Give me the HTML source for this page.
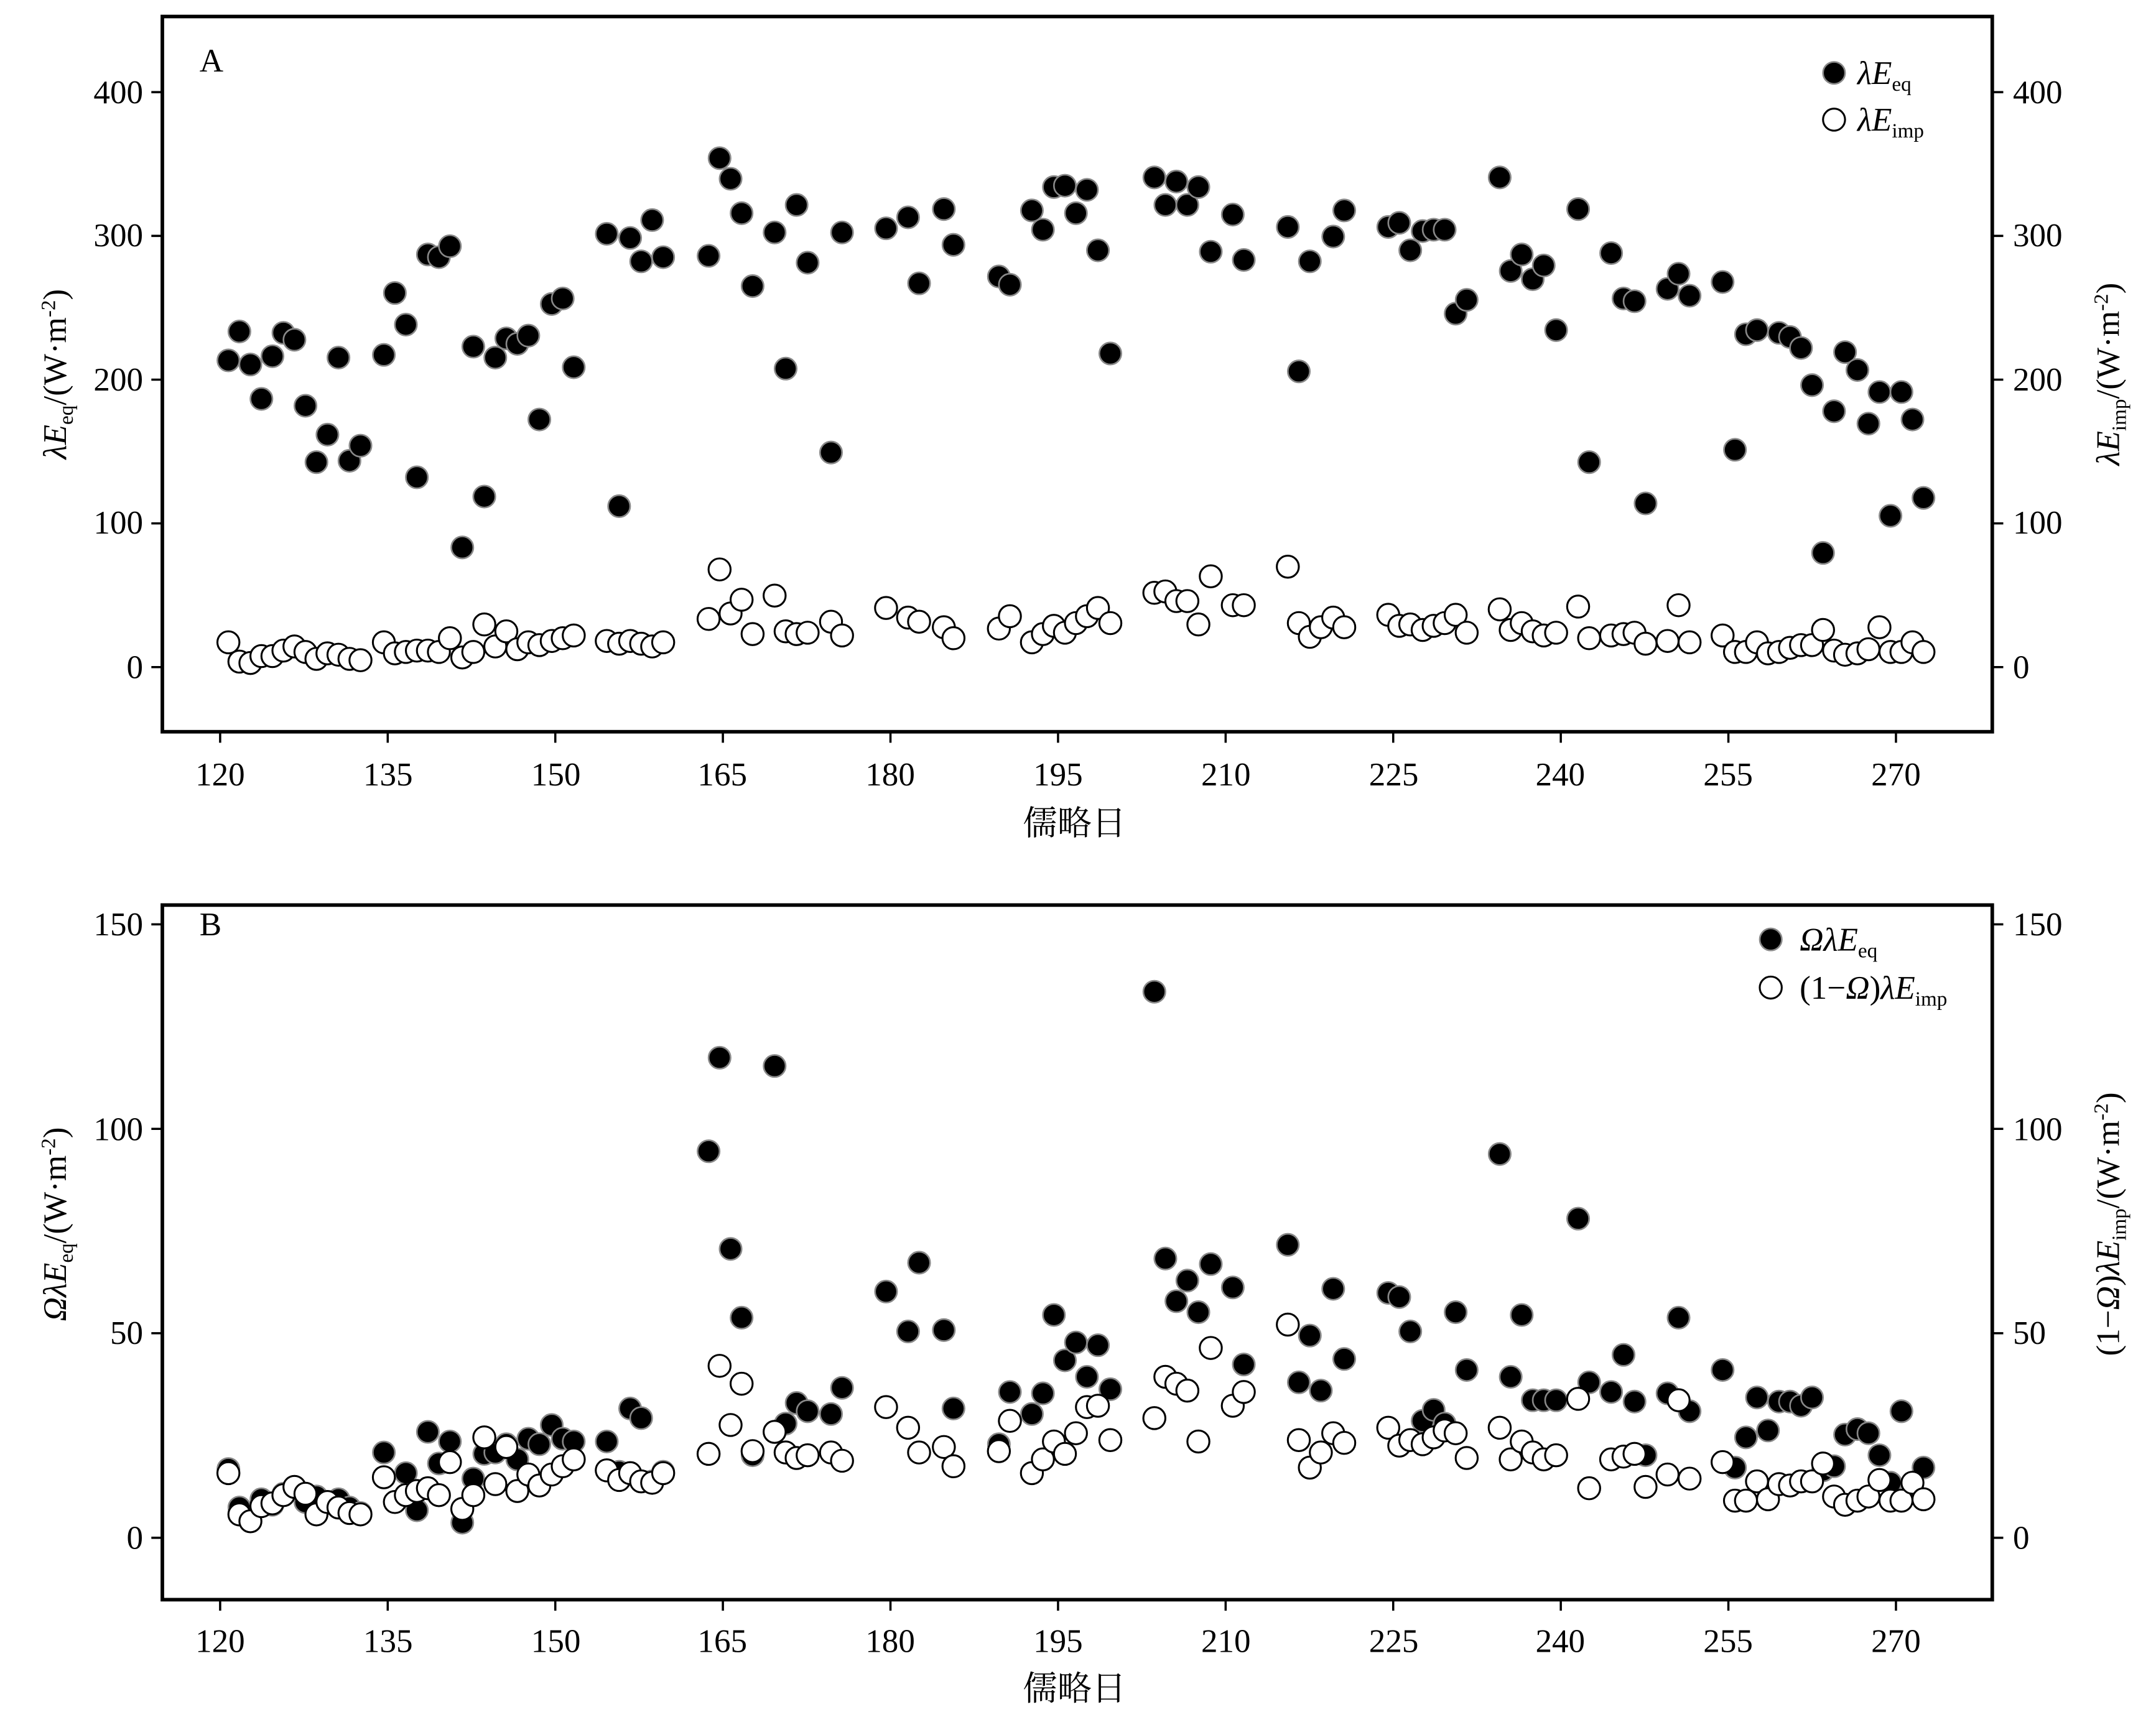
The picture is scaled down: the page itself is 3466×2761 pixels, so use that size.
<!DOCTYPE html>
<html><head><meta charset="utf-8"><style>
html,body{margin:0;padding:0;background:#fff;}
svg{display:block;}
text{font-family:"Liberation Serif","Noto Serif CJK SC",serif;fill:#000;}
</style></head><body>
<svg width="3466" height="2761" viewBox="0 0 1567 1248.3" preserveAspectRatio="none" xmlns="http://www.w3.org/2000/svg" xmlns:xlink="http://www.w3.org/1999/xlink">
<defs>
<circle id="f" cx="0" cy="0" r="8" fill="#000" stroke="#888" stroke-width="1.2"/>
<circle id="o" cx="0" cy="0" r="8" fill="#fff" stroke="#000" stroke-width="1.4"/>
</defs>
<rect width="1570" height="1250" fill="#fff"/>
<g>
<use href="#f" x="166" y="262"/><use href="#f" x="174" y="241"/><use href="#f" x="182" y="265"/><use href="#f" x="190" y="290"/><use href="#f" x="198" y="259"/><use href="#f" x="206" y="242"/><use href="#f" x="214" y="247"/><use href="#f" x="222" y="295"/><use href="#f" x="230" y="336"/><use href="#f" x="238" y="316"/><use href="#f" x="246" y="260"/><use href="#f" x="254" y="335"/><use href="#f" x="262" y="324"/><use href="#f" x="279" y="258"/><use href="#f" x="287" y="213"/><use href="#f" x="295" y="236"/><use href="#f" x="303" y="347"/><use href="#f" x="311" y="185"/><use href="#f" x="319" y="187"/><use href="#f" x="327" y="179"/><use href="#f" x="336" y="398"/><use href="#f" x="344" y="252"/><use href="#f" x="352" y="361"/><use href="#f" x="360" y="260"/><use href="#f" x="368" y="246"/><use href="#f" x="376" y="250"/><use href="#f" x="384" y="244"/><use href="#f" x="392" y="305"/><use href="#f" x="401" y="221"/><use href="#f" x="409" y="217"/><use href="#f" x="417" y="267"/><use href="#f" x="441" y="170"/><use href="#f" x="450" y="368"/><use href="#f" x="458" y="173"/><use href="#f" x="466" y="190"/><use href="#f" x="474" y="160"/><use href="#f" x="482" y="187"/><use href="#f" x="515" y="186"/><use href="#f" x="523" y="115"/><use href="#f" x="531" y="130"/><use href="#f" x="539" y="155"/><use href="#f" x="547" y="208"/><use href="#f" x="563" y="169"/><use href="#f" x="571" y="268"/><use href="#f" x="579" y="149"/><use href="#f" x="587" y="191"/><use href="#f" x="604" y="329"/><use href="#f" x="612" y="169"/><use href="#f" x="644" y="166"/><use href="#f" x="660" y="158"/><use href="#f" x="668" y="206"/><use href="#f" x="686" y="152"/><use href="#f" x="693" y="178"/><use href="#f" x="726" y="201"/><use href="#f" x="734" y="207"/><use href="#f" x="750" y="153"/><use href="#f" x="758" y="167"/><use href="#f" x="766" y="136"/><use href="#f" x="774" y="135"/><use href="#f" x="782" y="155"/><use href="#f" x="790" y="138"/><use href="#f" x="798" y="182"/><use href="#f" x="807" y="257"/><use href="#f" x="839" y="129"/><use href="#f" x="847" y="149"/><use href="#f" x="855" y="132"/><use href="#f" x="863" y="149"/><use href="#f" x="871" y="136"/><use href="#f" x="880" y="183"/><use href="#f" x="896" y="156"/><use href="#f" x="904" y="189"/><use href="#f" x="936" y="165"/><use href="#f" x="944" y="270"/><use href="#f" x="952" y="190"/><use href="#f" x="969" y="172"/><use href="#f" x="977" y="153"/><use href="#f" x="1009" y="165"/><use href="#f" x="1017" y="162"/><use href="#f" x="1025" y="182"/><use href="#f" x="1034" y="168"/><use href="#f" x="1042" y="167"/><use href="#f" x="1050" y="167"/><use href="#f" x="1058" y="228"/><use href="#f" x="1066" y="218"/><use href="#f" x="1090" y="129"/><use href="#f" x="1098" y="197"/><use href="#f" x="1106" y="185"/><use href="#f" x="1114" y="203"/><use href="#f" x="1122" y="193"/><use href="#f" x="1131" y="240"/><use href="#f" x="1147" y="152"/><use href="#f" x="1155" y="336"/><use href="#f" x="1171" y="184"/><use href="#f" x="1180" y="217"/><use href="#f" x="1188" y="219"/><use href="#f" x="1196" y="366"/><use href="#f" x="1212" y="210"/><use href="#f" x="1220" y="199"/><use href="#f" x="1228" y="215"/><use href="#f" x="1252" y="205"/><use href="#f" x="1261" y="327"/><use href="#f" x="1269" y="243"/><use href="#f" x="1277" y="240"/><use href="#f" x="1293" y="242"/><use href="#f" x="1301" y="245"/><use href="#f" x="1309" y="253"/><use href="#f" x="1317" y="280"/><use href="#f" x="1325" y="402"/><use href="#f" x="1333" y="299"/><use href="#f" x="1341" y="256"/><use href="#f" x="1350" y="269"/><use href="#f" x="1358" y="308"/><use href="#f" x="1366" y="285"/><use href="#f" x="1374" y="375"/><use href="#f" x="1382" y="285"/><use href="#f" x="1390" y="305"/><use href="#f" x="1398" y="362"/>
</g>
<g>
<use href="#o" x="166" y="467"/><use href="#o" x="174" y="481"/><use href="#o" x="182" y="482"/><use href="#o" x="190" y="477"/><use href="#o" x="198" y="477"/><use href="#o" x="206" y="473"/><use href="#o" x="214" y="470"/><use href="#o" x="222" y="474"/><use href="#o" x="230" y="479"/><use href="#o" x="238" y="475"/><use href="#o" x="246" y="476"/><use href="#o" x="254" y="479"/><use href="#o" x="262" y="480"/><use href="#o" x="279" y="467"/><use href="#o" x="287" y="475"/><use href="#o" x="295" y="474"/><use href="#o" x="303" y="473"/><use href="#o" x="311" y="473"/><use href="#o" x="319" y="474"/><use href="#o" x="327" y="464"/><use href="#o" x="336" y="478"/><use href="#o" x="344" y="474"/><use href="#o" x="352" y="454"/><use href="#o" x="360" y="470"/><use href="#o" x="368" y="459"/><use href="#o" x="376" y="472"/><use href="#o" x="384" y="467"/><use href="#o" x="392" y="469"/><use href="#o" x="401" y="466"/><use href="#o" x="409" y="464"/><use href="#o" x="417" y="462"/><use href="#o" x="441" y="466"/><use href="#o" x="450" y="468"/><use href="#o" x="458" y="466"/><use href="#o" x="466" y="468"/><use href="#o" x="474" y="470"/><use href="#o" x="482" y="467"/><use href="#o" x="515" y="450"/><use href="#o" x="523" y="414"/><use href="#o" x="531" y="446"/><use href="#o" x="539" y="436"/><use href="#o" x="547" y="461"/><use href="#o" x="563" y="433"/><use href="#o" x="571" y="459"/><use href="#o" x="579" y="461"/><use href="#o" x="587" y="460"/><use href="#o" x="604" y="452"/><use href="#o" x="612" y="462"/><use href="#o" x="644" y="442"/><use href="#o" x="660" y="449"/><use href="#o" x="668" y="452"/><use href="#o" x="686" y="456"/><use href="#o" x="693" y="464"/><use href="#o" x="726" y="457"/><use href="#o" x="734" y="448"/><use href="#o" x="750" y="467"/><use href="#o" x="758" y="461"/><use href="#o" x="766" y="455"/><use href="#o" x="774" y="460"/><use href="#o" x="782" y="453"/><use href="#o" x="790" y="448"/><use href="#o" x="798" y="442"/><use href="#o" x="807" y="453"/><use href="#o" x="839" y="431"/><use href="#o" x="847" y="430"/><use href="#o" x="855" y="437"/><use href="#o" x="863" y="437"/><use href="#o" x="871" y="454"/><use href="#o" x="880" y="419"/><use href="#o" x="896" y="440"/><use href="#o" x="904" y="440"/><use href="#o" x="936" y="412"/><use href="#o" x="944" y="453"/><use href="#o" x="952" y="463"/><use href="#o" x="960" y="456"/><use href="#o" x="969" y="449"/><use href="#o" x="977" y="456"/><use href="#o" x="1009" y="447"/><use href="#o" x="1017" y="455"/><use href="#o" x="1025" y="454"/><use href="#o" x="1034" y="458"/><use href="#o" x="1042" y="455"/><use href="#o" x="1050" y="453"/><use href="#o" x="1058" y="447"/><use href="#o" x="1066" y="460"/><use href="#o" x="1090" y="443"/><use href="#o" x="1098" y="458"/><use href="#o" x="1106" y="453"/><use href="#o" x="1114" y="459"/><use href="#o" x="1122" y="462"/><use href="#o" x="1131" y="460"/><use href="#o" x="1147" y="441"/><use href="#o" x="1155" y="464"/><use href="#o" x="1171" y="462"/><use href="#o" x="1180" y="461"/><use href="#o" x="1188" y="460"/><use href="#o" x="1196" y="468"/><use href="#o" x="1212" y="466"/><use href="#o" x="1220" y="440"/><use href="#o" x="1228" y="467"/><use href="#o" x="1252" y="462"/><use href="#o" x="1261" y="474"/><use href="#o" x="1269" y="474"/><use href="#o" x="1277" y="467"/><use href="#o" x="1285" y="475"/><use href="#o" x="1293" y="474"/><use href="#o" x="1301" y="471"/><use href="#o" x="1309" y="469"/><use href="#o" x="1317" y="469"/><use href="#o" x="1325" y="458"/><use href="#o" x="1333" y="473"/><use href="#o" x="1341" y="476"/><use href="#o" x="1350" y="475"/><use href="#o" x="1358" y="472"/><use href="#o" x="1366" y="456"/><use href="#o" x="1374" y="474"/><use href="#o" x="1382" y="474"/><use href="#o" x="1390" y="467"/><use href="#o" x="1398" y="474"/>
</g>
<g>
<use href="#f" x="166" y="1068"/><use href="#f" x="174" y="1096"/><use href="#f" x="190" y="1090"/><use href="#f" x="198" y="1094"/><use href="#f" x="206" y="1086"/><use href="#f" x="214" y="1081"/><use href="#f" x="222" y="1092"/><use href="#f" x="230" y="1088"/><use href="#f" x="238" y="1093"/><use href="#f" x="246" y="1090"/><use href="#f" x="254" y="1096"/><use href="#f" x="262" y="1100"/><use href="#f" x="279" y="1056"/><use href="#f" x="295" y="1071"/><use href="#f" x="303" y="1098"/><use href="#f" x="311" y="1041"/><use href="#f" x="319" y="1064"/><use href="#f" x="327" y="1048"/><use href="#f" x="336" y="1107"/><use href="#f" x="344" y="1075"/><use href="#f" x="352" y="1057"/><use href="#f" x="360" y="1056"/><use href="#f" x="368" y="1050"/><use href="#f" x="376" y="1061"/><use href="#f" x="384" y="1046"/><use href="#f" x="392" y="1050"/><use href="#f" x="401" y="1036"/><use href="#f" x="409" y="1046"/><use href="#f" x="417" y="1048"/><use href="#f" x="441" y="1048"/><use href="#f" x="450" y="1070"/><use href="#f" x="458" y="1024"/><use href="#f" x="466" y="1031"/><use href="#f" x="474" y="1077"/><use href="#f" x="482" y="1070"/><use href="#f" x="515" y="837"/><use href="#f" x="523" y="769"/><use href="#f" x="531" y="908"/><use href="#f" x="539" y="958"/><use href="#f" x="547" y="1058"/><use href="#f" x="563" y="775"/><use href="#f" x="571" y="1035"/><use href="#f" x="579" y="1020"/><use href="#f" x="587" y="1026"/><use href="#f" x="604" y="1028"/><use href="#f" x="612" y="1009"/><use href="#f" x="644" y="939"/><use href="#f" x="660" y="968"/><use href="#f" x="668" y="918"/><use href="#f" x="686" y="967"/><use href="#f" x="693" y="1024"/><use href="#f" x="726" y="1050"/><use href="#f" x="734" y="1012"/><use href="#f" x="750" y="1028"/><use href="#f" x="758" y="1013"/><use href="#f" x="766" y="956"/><use href="#f" x="774" y="989"/><use href="#f" x="782" y="976"/><use href="#f" x="790" y="1001"/><use href="#f" x="798" y="978"/><use href="#f" x="807" y="1010"/><use href="#f" x="839" y="721"/><use href="#f" x="847" y="915"/><use href="#f" x="855" y="946"/><use href="#f" x="863" y="931"/><use href="#f" x="871" y="954"/><use href="#f" x="880" y="919"/><use href="#f" x="896" y="936"/><use href="#f" x="904" y="992"/><use href="#f" x="936" y="905"/><use href="#f" x="944" y="1005"/><use href="#f" x="952" y="971"/><use href="#f" x="960" y="1011"/><use href="#f" x="969" y="937"/><use href="#f" x="977" y="988"/><use href="#f" x="1009" y="940"/><use href="#f" x="1017" y="943"/><use href="#f" x="1025" y="968"/><use href="#f" x="1034" y="1033"/><use href="#f" x="1042" y="1025"/><use href="#f" x="1050" y="1035"/><use href="#f" x="1058" y="954"/><use href="#f" x="1066" y="996"/><use href="#f" x="1090" y="839"/><use href="#f" x="1098" y="1001"/><use href="#f" x="1106" y="956"/><use href="#f" x="1114" y="1018"/><use href="#f" x="1122" y="1018"/><use href="#f" x="1131" y="1018"/><use href="#f" x="1147" y="886"/><use href="#f" x="1155" y="1005"/><use href="#f" x="1171" y="1012"/><use href="#f" x="1180" y="985"/><use href="#f" x="1188" y="1019"/><use href="#f" x="1196" y="1058"/><use href="#f" x="1212" y="1013"/><use href="#f" x="1220" y="958"/><use href="#f" x="1228" y="1026"/><use href="#f" x="1252" y="996"/><use href="#f" x="1261" y="1067"/><use href="#f" x="1269" y="1045"/><use href="#f" x="1277" y="1016"/><use href="#f" x="1285" y="1040"/><use href="#f" x="1293" y="1019"/><use href="#f" x="1301" y="1019"/><use href="#f" x="1309" y="1022"/><use href="#f" x="1317" y="1016"/><use href="#f" x="1325" y="1069"/><use href="#f" x="1333" y="1066"/><use href="#f" x="1341" y="1043"/><use href="#f" x="1350" y="1039"/><use href="#f" x="1358" y="1042"/><use href="#f" x="1366" y="1058"/><use href="#f" x="1374" y="1078"/><use href="#f" x="1382" y="1026"/><use href="#f" x="1390" y="1079"/><use href="#f" x="1398" y="1067"/>
</g>
<g>
<use href="#o" x="166" y="1071"/><use href="#o" x="174" y="1101"/><use href="#o" x="182" y="1106"/><use href="#o" x="190" y="1095"/><use href="#o" x="198" y="1093"/><use href="#o" x="206" y="1087"/><use href="#o" x="214" y="1081"/><use href="#o" x="222" y="1086"/><use href="#o" x="230" y="1101"/><use href="#o" x="238" y="1092"/><use href="#o" x="246" y="1096"/><use href="#o" x="254" y="1100"/><use href="#o" x="262" y="1101"/><use href="#o" x="279" y="1074"/><use href="#o" x="287" y="1092"/><use href="#o" x="295" y="1087"/><use href="#o" x="303" y="1084"/><use href="#o" x="311" y="1082"/><use href="#o" x="319" y="1087"/><use href="#o" x="327" y="1063"/><use href="#o" x="336" y="1097"/><use href="#o" x="344" y="1087"/><use href="#o" x="352" y="1045"/><use href="#o" x="360" y="1079"/><use href="#o" x="368" y="1052"/><use href="#o" x="376" y="1084"/><use href="#o" x="384" y="1072"/><use href="#o" x="392" y="1080"/><use href="#o" x="401" y="1072"/><use href="#o" x="409" y="1066"/><use href="#o" x="417" y="1061"/><use href="#o" x="441" y="1069"/><use href="#o" x="450" y="1076"/><use href="#o" x="458" y="1071"/><use href="#o" x="466" y="1077"/><use href="#o" x="474" y="1078"/><use href="#o" x="482" y="1071"/><use href="#o" x="515" y="1057"/><use href="#o" x="523" y="993"/><use href="#o" x="531" y="1036"/><use href="#o" x="539" y="1006"/><use href="#o" x="547" y="1055"/><use href="#o" x="563" y="1041"/><use href="#o" x="571" y="1056"/><use href="#o" x="579" y="1060"/><use href="#o" x="587" y="1058"/><use href="#o" x="604" y="1056"/><use href="#o" x="612" y="1062"/><use href="#o" x="644" y="1023"/><use href="#o" x="660" y="1038"/><use href="#o" x="668" y="1056"/><use href="#o" x="686" y="1052"/><use href="#o" x="693" y="1066"/><use href="#o" x="726" y="1055"/><use href="#o" x="734" y="1033"/><use href="#o" x="750" y="1071"/><use href="#o" x="758" y="1061"/><use href="#o" x="766" y="1048"/><use href="#o" x="774" y="1057"/><use href="#o" x="782" y="1042"/><use href="#o" x="790" y="1023"/><use href="#o" x="798" y="1022"/><use href="#o" x="807" y="1047"/><use href="#o" x="839" y="1031"/><use href="#o" x="847" y="1001"/><use href="#o" x="855" y="1006"/><use href="#o" x="863" y="1011"/><use href="#o" x="871" y="1048"/><use href="#o" x="880" y="980"/><use href="#o" x="896" y="1022"/><use href="#o" x="904" y="1012"/><use href="#o" x="936" y="963"/><use href="#o" x="944" y="1047"/><use href="#o" x="952" y="1067"/><use href="#o" x="960" y="1056"/><use href="#o" x="969" y="1042"/><use href="#o" x="977" y="1049"/><use href="#o" x="1009" y="1038"/><use href="#o" x="1017" y="1051"/><use href="#o" x="1025" y="1047"/><use href="#o" x="1034" y="1050"/><use href="#o" x="1042" y="1045"/><use href="#o" x="1050" y="1040"/><use href="#o" x="1058" y="1042"/><use href="#o" x="1066" y="1060"/><use href="#o" x="1090" y="1038"/><use href="#o" x="1098" y="1061"/><use href="#o" x="1106" y="1048"/><use href="#o" x="1114" y="1056"/><use href="#o" x="1122" y="1061"/><use href="#o" x="1131" y="1058"/><use href="#o" x="1147" y="1017"/><use href="#o" x="1155" y="1082"/><use href="#o" x="1171" y="1061"/><use href="#o" x="1180" y="1059"/><use href="#o" x="1188" y="1057"/><use href="#o" x="1196" y="1081"/><use href="#o" x="1212" y="1072"/><use href="#o" x="1220" y="1018"/><use href="#o" x="1228" y="1075"/><use href="#o" x="1252" y="1063"/><use href="#o" x="1261" y="1091"/><use href="#o" x="1269" y="1091"/><use href="#o" x="1277" y="1077"/><use href="#o" x="1285" y="1090"/><use href="#o" x="1293" y="1079"/><use href="#o" x="1301" y="1080"/><use href="#o" x="1309" y="1077"/><use href="#o" x="1317" y="1077"/><use href="#o" x="1325" y="1064"/><use href="#o" x="1333" y="1088"/><use href="#o" x="1341" y="1094"/><use href="#o" x="1350" y="1091"/><use href="#o" x="1358" y="1088"/><use href="#o" x="1366" y="1076"/><use href="#o" x="1374" y="1091"/><use href="#o" x="1382" y="1091"/><use href="#o" x="1390" y="1078"/><use href="#o" x="1398" y="1090"/>
</g>
<g fill="none" stroke="#000" stroke-width="2.6">
<rect x="118" y="12" width="1330" height="520"/>
<rect x="118" y="658" width="1330" height="505"/>
</g>
<g stroke="#000" stroke-width="1.6">
<line x1="110" y1="485" x2="118" y2="485"/><line x1="110" y1="380.5" x2="118" y2="380.5"/><line x1="110" y1="276" x2="118" y2="276"/><line x1="110" y1="171.5" x2="118" y2="171.5"/><line x1="110" y1="67" x2="118" y2="67"/>
<line x1="1448" y1="485" x2="1456" y2="485"/><line x1="1448" y1="380.5" x2="1456" y2="380.5"/><line x1="1448" y1="276" x2="1456" y2="276"/><line x1="1448" y1="171.5" x2="1456" y2="171.5"/><line x1="1448" y1="67" x2="1456" y2="67"/>
<line x1="110" y1="1118" x2="118" y2="1118"/><line x1="110" y1="969.3" x2="118" y2="969.3"/><line x1="110" y1="820.7" x2="118" y2="820.7"/><line x1="110" y1="672" x2="118" y2="672"/>
<line x1="1448" y1="1118" x2="1456" y2="1118"/><line x1="1448" y1="969.3" x2="1456" y2="969.3"/><line x1="1448" y1="820.7" x2="1456" y2="820.7"/><line x1="1448" y1="672" x2="1456" y2="672"/>
<line x1="160" y1="532" x2="160" y2="540"/><line x1="281.8" y1="532" x2="281.8" y2="540"/><line x1="403.6" y1="532" x2="403.6" y2="540"/><line x1="525.4" y1="532" x2="525.4" y2="540"/><line x1="647.2" y1="532" x2="647.2" y2="540"/><line x1="769" y1="532" x2="769" y2="540"/><line x1="890.8" y1="532" x2="890.8" y2="540"/><line x1="1012.6" y1="532" x2="1012.6" y2="540"/><line x1="1134.4" y1="532" x2="1134.4" y2="540"/><line x1="1256.2" y1="532" x2="1256.2" y2="540"/><line x1="1378" y1="532" x2="1378" y2="540"/>
<line x1="160" y1="1163" x2="160" y2="1171"/><line x1="281.8" y1="1163" x2="281.8" y2="1171"/><line x1="403.6" y1="1163" x2="403.6" y2="1171"/><line x1="525.4" y1="1163" x2="525.4" y2="1171"/><line x1="647.2" y1="1163" x2="647.2" y2="1171"/><line x1="769" y1="1163" x2="769" y2="1171"/><line x1="890.8" y1="1163" x2="890.8" y2="1171"/><line x1="1012.6" y1="1163" x2="1012.6" y2="1171"/><line x1="1134.4" y1="1163" x2="1134.4" y2="1171"/><line x1="1256.2" y1="1163" x2="1256.2" y2="1171"/><line x1="1378" y1="1163" x2="1378" y2="1171"/>
</g>
<g font-size="24">
<text x="145" y="52">A</text>
<text x="145" y="680">B</text>
<g text-anchor="end">
<text x="104" y="493">0</text><text x="104" y="388">100</text><text x="104" y="284">200</text><text x="104" y="179">300</text><text x="104" y="75">400</text>
<text x="104" y="1126">0</text><text x="104" y="977">50</text><text x="104" y="829">100</text><text x="104" y="680">150</text>
</g>
<g text-anchor="start">
<text x="1463" y="493">0</text><text x="1463" y="388">100</text><text x="1463" y="284">200</text><text x="1463" y="179">300</text><text x="1463" y="75">400</text>
<text x="1463" y="1126">0</text><text x="1463" y="977">50</text><text x="1463" y="829">100</text><text x="1463" y="680">150</text>
</g>
<g text-anchor="middle">
<text x="160" y="571">120</text><text x="282" y="571">135</text><text x="404" y="571">150</text><text x="525" y="571">165</text><text x="647" y="571">180</text><text x="769" y="571">195</text><text x="891" y="571">210</text><text x="1013" y="571">225</text><text x="1134" y="571">240</text><text x="1256" y="571">255</text><text x="1378" y="571">270</text>
<text x="160" y="1201">120</text><text x="282" y="1201">135</text><text x="404" y="1201">150</text><text x="525" y="1201">165</text><text x="647" y="1201">180</text><text x="769" y="1201">195</text><text x="891" y="1201">210</text><text x="1013" y="1201">225</text><text x="1134" y="1201">240</text><text x="1256" y="1201">255</text><text x="1378" y="1201">270</text>
<text x="781" y="607" font-size="25">儒略日</text>
<text x="781" y="1236" font-size="25">儒略日</text>
</g>
<text transform="translate(48,272) rotate(-90)" text-anchor="middle"><tspan font-style="italic">λE</tspan><tspan font-size="15" dy="5">eq</tspan><tspan dy="-5">/(W·m</tspan><tspan font-size="15" dy="-8">-2</tspan><tspan dy="8">)</tspan></text>
<text transform="translate(1540,272) rotate(-90)" text-anchor="middle"><tspan font-style="italic">λE</tspan><tspan font-size="15" dy="5">imp</tspan><tspan dy="-5">/(W·m</tspan><tspan font-size="15" dy="-8">-2</tspan><tspan dy="8">)</tspan></text>
<text transform="translate(48,890) rotate(-90)" text-anchor="middle"><tspan font-style="italic">ΩλE</tspan><tspan font-size="15" dy="5">eq</tspan><tspan dy="-5">/(W·m</tspan><tspan font-size="15" dy="-8">-2</tspan><tspan dy="8">)</tspan></text>
<text transform="translate(1540,890) rotate(-90)" text-anchor="middle">(1−<tspan font-style="italic">Ω</tspan>)<tspan font-style="italic">λE</tspan><tspan font-size="15" dy="5">imp</tspan><tspan dy="-5">/(W·m</tspan><tspan font-size="15" dy="-8">-2</tspan><tspan dy="8">)</tspan></text>
<use href="#f" x="1333" y="53"/>
<use href="#o" x="1333" y="87"/>
<text x="1350" y="61"><tspan font-style="italic">λE</tspan><tspan font-size="15" dy="5">eq</tspan></text>
<text x="1350" y="95"><tspan font-style="italic">λE</tspan><tspan font-size="15" dy="5">imp</tspan></text>
<use href="#f" x="1287" y="683"/>
<use href="#o" x="1287" y="718"/>
<text x="1308" y="691"><tspan font-style="italic">ΩλE</tspan><tspan font-size="15" dy="5">eq</tspan></text>
<text x="1308" y="726">(1−<tspan font-style="italic">Ω</tspan>)<tspan font-style="italic">λE</tspan><tspan font-size="15" dy="5">imp</tspan></text>
</g>
</svg>
</body></html>
